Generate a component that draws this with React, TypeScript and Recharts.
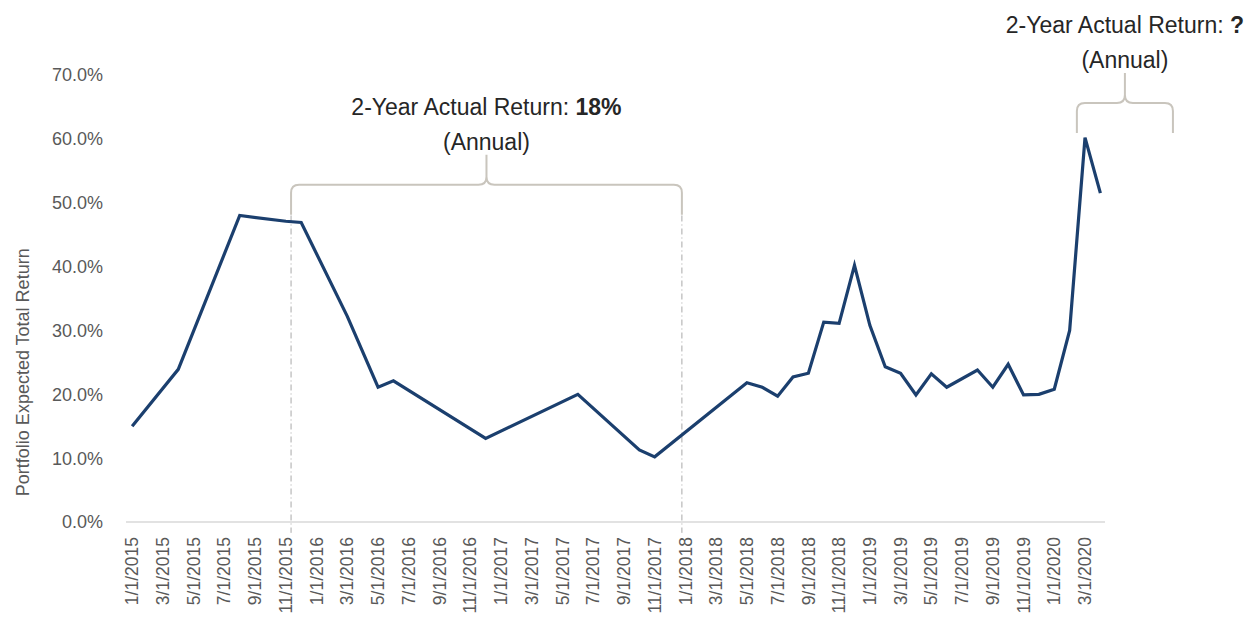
import { LineChart, Line, XAxis, YAxis, ReferenceLine, ReferenceArea } from 'recharts'

// observation dates and portfolio expected total return (%)
const dates = [
  '1/1/2015', '4/1/2015', '8/1/2015', '11/1/2015', '12/1/2015', '3/1/2016', '5/1/2016', '6/1/2016',
  '12/1/2016', '6/1/2017', '10/1/2017', '11/1/2017', '5/1/2018', '6/1/2018', '7/1/2018', '8/1/2018',
  '9/1/2018', '10/1/2018', '11/1/2018', '12/1/2018', '1/1/2019', '2/1/2019', '3/1/2019', '4/1/2019',
  '5/1/2019', '6/1/2019', '8/1/2019', '9/1/2019', '10/1/2019', '11/1/2019', '12/1/2019', '1/1/2020',
  '2/1/2020', '3/1/2020', '4/1/2020',
]
const returns = [
  15.0, 23.9, 48.0, 47.1, 46.9, 32.2, 21.1, 22.1,
  13.1, 20.0, 11.3, 10.2, 21.8, 21.1, 19.7, 22.7,
  23.3, 31.3, 31.1, 40.2, 30.8, 24.3, 23.3, 19.9,
  23.2, 21.1, 23.8, 21.1, 24.7, 19.9, 20.0, 20.8,
  30.0, 60.2, 51.5,
]

const tickLabels = [
  '1/1/2015', '3/1/2015', '5/1/2015', '7/1/2015', '9/1/2015', '11/1/2015',
  '1/1/2016', '3/1/2016', '5/1/2016', '7/1/2016', '9/1/2016', '11/1/2016',
  '1/1/2017', '3/1/2017', '5/1/2017', '7/1/2017', '9/1/2017', '11/1/2017',
  '1/1/2018', '3/1/2018', '5/1/2018', '7/1/2018', '9/1/2018', '11/1/2018',
  '1/1/2019', '3/1/2019', '5/1/2019', '7/1/2019', '9/1/2019', '11/1/2019',
  '1/1/2020', '3/1/2020',
]
const yTicks = [0, 10, 20, 30, 40, 50, 60, 70]

// month index counted from Jan 2015
const monthIndex = (d: string) => {
  const [m, , y] = d.split('/').map(Number)
  return (y - 2015) * 12 + (m - 1)
}

const data = dates.map((d, i) => ({ t: monthIndex(d), value: returns[i] }))
const xTicks = tickLabels.map(monthIndex)
const labelFor: Record<number, string> = {}
tickLabels.forEach((l) => { labelFor[monthIndex(l)] = l })

const FONT = '"Liberation Sans", Arial, sans-serif'
const BRACE = '#c9c5bd'
const DASH = '#a8a8a8'

const XTick = ({ x, y, payload }: any) => (
  <text
    x={x} y={y + 7}
    transform={`rotate(-90, ${x}, ${y + 7})`}
    textAnchor="end" dy="0.35em"
    fontSize={17.5} fill="#595959" fontFamily={FONT}
  >
    {labelFor[payload.value]}
  </text>
)

const Brace = ({ x, y, width, height, value }: any) => {
  const r = 8
  const ym = y + height / 2
  const cx = x + width / 2
  const d = [
    `M${x},${y + height} L${x},${ym + r} Q${x},${ym} ${x + r},${ym}`,
    `L${cx - r},${ym} Q${cx},${ym} ${cx},${ym - r} L${cx},${y}`,
    `M${cx},${ym - r} Q${cx},${ym} ${cx + r},${ym}`,
    `L${x + width - r},${ym} Q${x + width},${ym} ${x + width},${ym + r} L${x + width},${y + height}`,
  ].join(' ')
  return (
    <g>
      <path d={d} fill="none" stroke={BRACE} strokeWidth={2} />
      <text x={cx} y={y - 40} textAnchor="middle" fontSize={23} fill="#262626" fontFamily={FONT}>
        2-Year Actual Return: <tspan fontWeight="bold">{value}</tspan>
      </text>
      <text x={cx} y={y - 5} textAnchor="middle" fontSize={23} fill="#262626" fontFamily={FONT}>
        (Annual)
      </text>
    </g>
  )
}

const YLabel = ({ viewBox }: any) => {
  const cx = viewBox.x + 23
  const cy = viewBox.y + viewBox.height * 0.665
  return (
    <text
      x={cx} y={cy} transform={`rotate(-90, ${cx}, ${cy})`}
      textAnchor="middle" dy="0.35em"
      fontSize={18} fill="#595959" fontFamily={FONT}
    >
      Portfolio Expected Total Return
    </text>
  )
}

export default function App() {
  return (
    <div style={{ position: 'absolute', left: 0, top: 0, width: 1257, height: 617, background: '#fff' }}>
      <LineChart width={1257} height={617} data={data} margin={{ top: 75, right: 152, left: 0, bottom: 0 }}>
        <XAxis
          dataKey="t"
          type="number"
          domain={[-0.4, 63.3]}
          ticks={xTicks}
          interval={0}
          tick={<XTick />}
          tickLine={false}
          axisLine={{ stroke: '#d9d9d9', strokeWidth: 1.5 }}
          height={95}
        />
        <YAxis
          domain={[0, 70]}
          ticks={yTicks}
          width={126}
          axisLine={false}
          tickLine={false}
          tickMargin={17}
          tickFormatter={(v: number) => `${v.toFixed(1)}%`}
          tick={{ fontSize: 18, fill: '#595959', fontFamily: FONT }}
          label={<YLabel />}
        />
        <ReferenceLine
          segment={[{ x: 10.34, y: 48 }, { x: 10.34, y: -1.7 }]}
          stroke={DASH} strokeDasharray="6 3 1 3" ifOverflow="visible"
        />
        <ReferenceLine
          segment={[{ x: 35.77, y: 48 }, { x: 35.77, y: -1.7 }]}
          stroke={DASH} strokeDasharray="6 3 1 3" ifOverflow="visible"
        />
        <ReferenceArea
          x1={10.34} x2={35.77} y1={48.1} y2={57.5}
          ifOverflow="visible"
          shape={(p: any) => <Brace {...p} value="18%" />}
        />
        <ReferenceArea
          x1={61.47} x2={67.72} y1={60.9} y2={70.3}
          ifOverflow="visible"
          shape={(p: any) => <Brace {...p} value="?" />}
        />
        <Line
          type="linear"
          dataKey="value"
          stroke="#1b3f6e"
          strokeWidth={3.2}
          dot={false}
          isAnimationActive={false}
        />
      </LineChart>
    </div>
  )
}
